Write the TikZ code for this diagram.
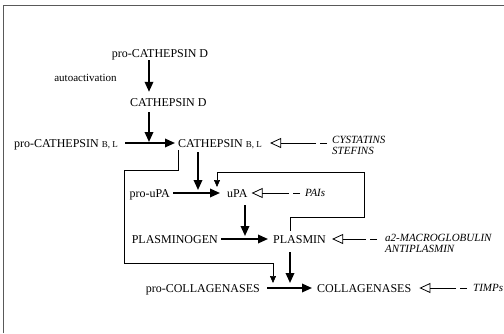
\documentclass[tikz,border=0pt]{standalone}
\usepackage{fontspec}
\setmainfont{Liberation Serif}
\usepackage{tikz}
\usetikzlibrary{arrows.meta}

\newcommand{\lowcaps}[1]{{\fontsize{9}{9}\selectfont #1}}

\tikzset{
  lbl/.style={inner sep=0pt, text height=8pt, text depth=0pt,
              font=\fontsize{12}{14}\selectfont},
  inhlbl/.style={inner sep=0pt, align=left,
                 font=\fontsize{11}{11}\selectfont\itshape},
  bigarrow/.style={line width=1.8pt, -{Triangle[length=10pt,width=8.5pt]}},
  thinarrow/.style={line width=0.7pt, -{Triangle[length=7pt,width=6pt]}},
  inhib/.style={line width=0.7pt, dash pattern=on 7pt off 4pt on 300pt,
                -{Triangle[open,length=11pt,width=10pt,line width=0.8pt]}},
}

\begin{document}
\begin{tikzpicture}[x=1pt, y=-1pt]
  \useasboundingbox (0,0) rectangle (504,333);
  % edge of the scanned page
  \draw[black!65, line width=0.6pt] (3,333) -- (3,5) -- (504,5);

  % columns the down arrows sit on
  \coordinate (colD) at (149,0);
  \coordinate (colB) at (198,0);
  \coordinate (colR) at (217,0);
  \coordinate (colU) at (245,0);
  \coordinate (colL) at (273,0);
  \coordinate (colP) at (290,0);

  % cathepsins
  \node[lbl] (proD) at (160,53) {pro-CATHEPSIN D};
  \node[lbl, font=\fontsize{11}{13}\selectfont] (auto) at (85.5,77) {autoactivation};
  \node[lbl, anchor=west] (catD) at (130,102) {CATHEPSIN D};
  \node[lbl, anchor=east] (proBL) at (118,143) {pro-CATHEPSIN \lowcaps{B, L}};
  \node[lbl, anchor=west] (catBL) at (178,143) {CATHEPSIN \lowcaps{B, L}};
  \node[inhlbl, anchor=west] (cyst) at (332,145.5) {CYSTATINS\\STEFINS};

  % urokinase
  \node[lbl, anchor=east] (prouPA) at (170,193) {pro-uPA};
  \node[lbl, anchor=west] (uPA) at (227,193) {uPA};
  \node[inhlbl, anchor=west] (pai) at (305,193) {PAIs};

  % plasmin
  \node[lbl, anchor=east] (plg) at (218,239) {PLASMINOGEN};
  \node[lbl, anchor=west] (pls) at (273,239) {PLASMIN};
  \node[inhlbl, anchor=west] (a2m) at (385,243.5) {a2-MACROGLOBULIN\\ANTIPLASMIN};

  % collagenases
  \node[lbl, anchor=east] (proCol) at (260,288) {pro-COLLAGENASES};
  \node[lbl, anchor=west] (col) at (317,288) {COLLAGENASES};
  \node[inhlbl, anchor=west] (timp) at (473,288) {TIMPs};

  % activation steps
  \draw[bigarrow] ([yshift=-3pt]colD |- proD.south) -- ([yshift=6pt]colD |- catD.north);
  \draw[bigarrow] ([yshift=-6pt]colD |- catD.south) -- ([yshift=1pt]colD |- proBL.east);
  \draw[bigarrow] ([xshift=7pt]proBL.east) -- ([xshift=-3pt]catBL.west);
  \draw[bigarrow] ([xshift=3pt]prouPA.east) -- ([xshift=-7pt]uPA.west);
  \draw[bigarrow] ([yshift=-5pt]colB |- catBL.south) -- ([yshift=3pt]colB |- prouPA.east);
  \draw[bigarrow] ([xshift=3pt]plg.east) -- ([xshift=-5pt]pls.west);
  \draw[bigarrow] ([yshift=-8pt]colU |- uPA.south) -- ([yshift=3pt]colU |- plg.east);
  \draw[bigarrow] ([xshift=7pt]proCol.east) -- ([xshift=-5pt]col.west);
  \draw[bigarrow] ([yshift=-9pt]colP |- pls.south) -- ([yshift=5pt]colP |- proCol.east);

  % side routes
  \coordinate (lbend) at (124,170);
  \coordinate (lbase) at (124,263);
  \draw[thinarrow] ([yshift=-3pt]catBL.south west) |- (lbend) -- (lbase)
    -| ([yshift=5pt]colL |- proCol.east);
  \coordinate (rlow) at (364,217);
  \coordinate (rhigh) at (364,172);
  \draw[thinarrow] ([yshift=4pt]colP |- pls.north) |- (rlow) -- (rhigh)
    -| ([yshift=6pt]colR |- uPA.west);

  % inhibitors
  \draw[inhib] ([xshift=-5pt]cyst.west |- catBL.east) -- ([xshift=8pt]catBL.east);
  \draw[inhib] ([xshift=-5pt]pai.west) -- ([xshift=4pt]uPA.east);
  \draw[inhib] ([xshift=-8pt]a2m.west |- pls.east) -- ([xshift=6pt]pls.east);
  \draw[inhib] ([xshift=-6pt]timp.west) -- ([xshift=8pt]col.east);
\end{tikzpicture}
\end{document}
